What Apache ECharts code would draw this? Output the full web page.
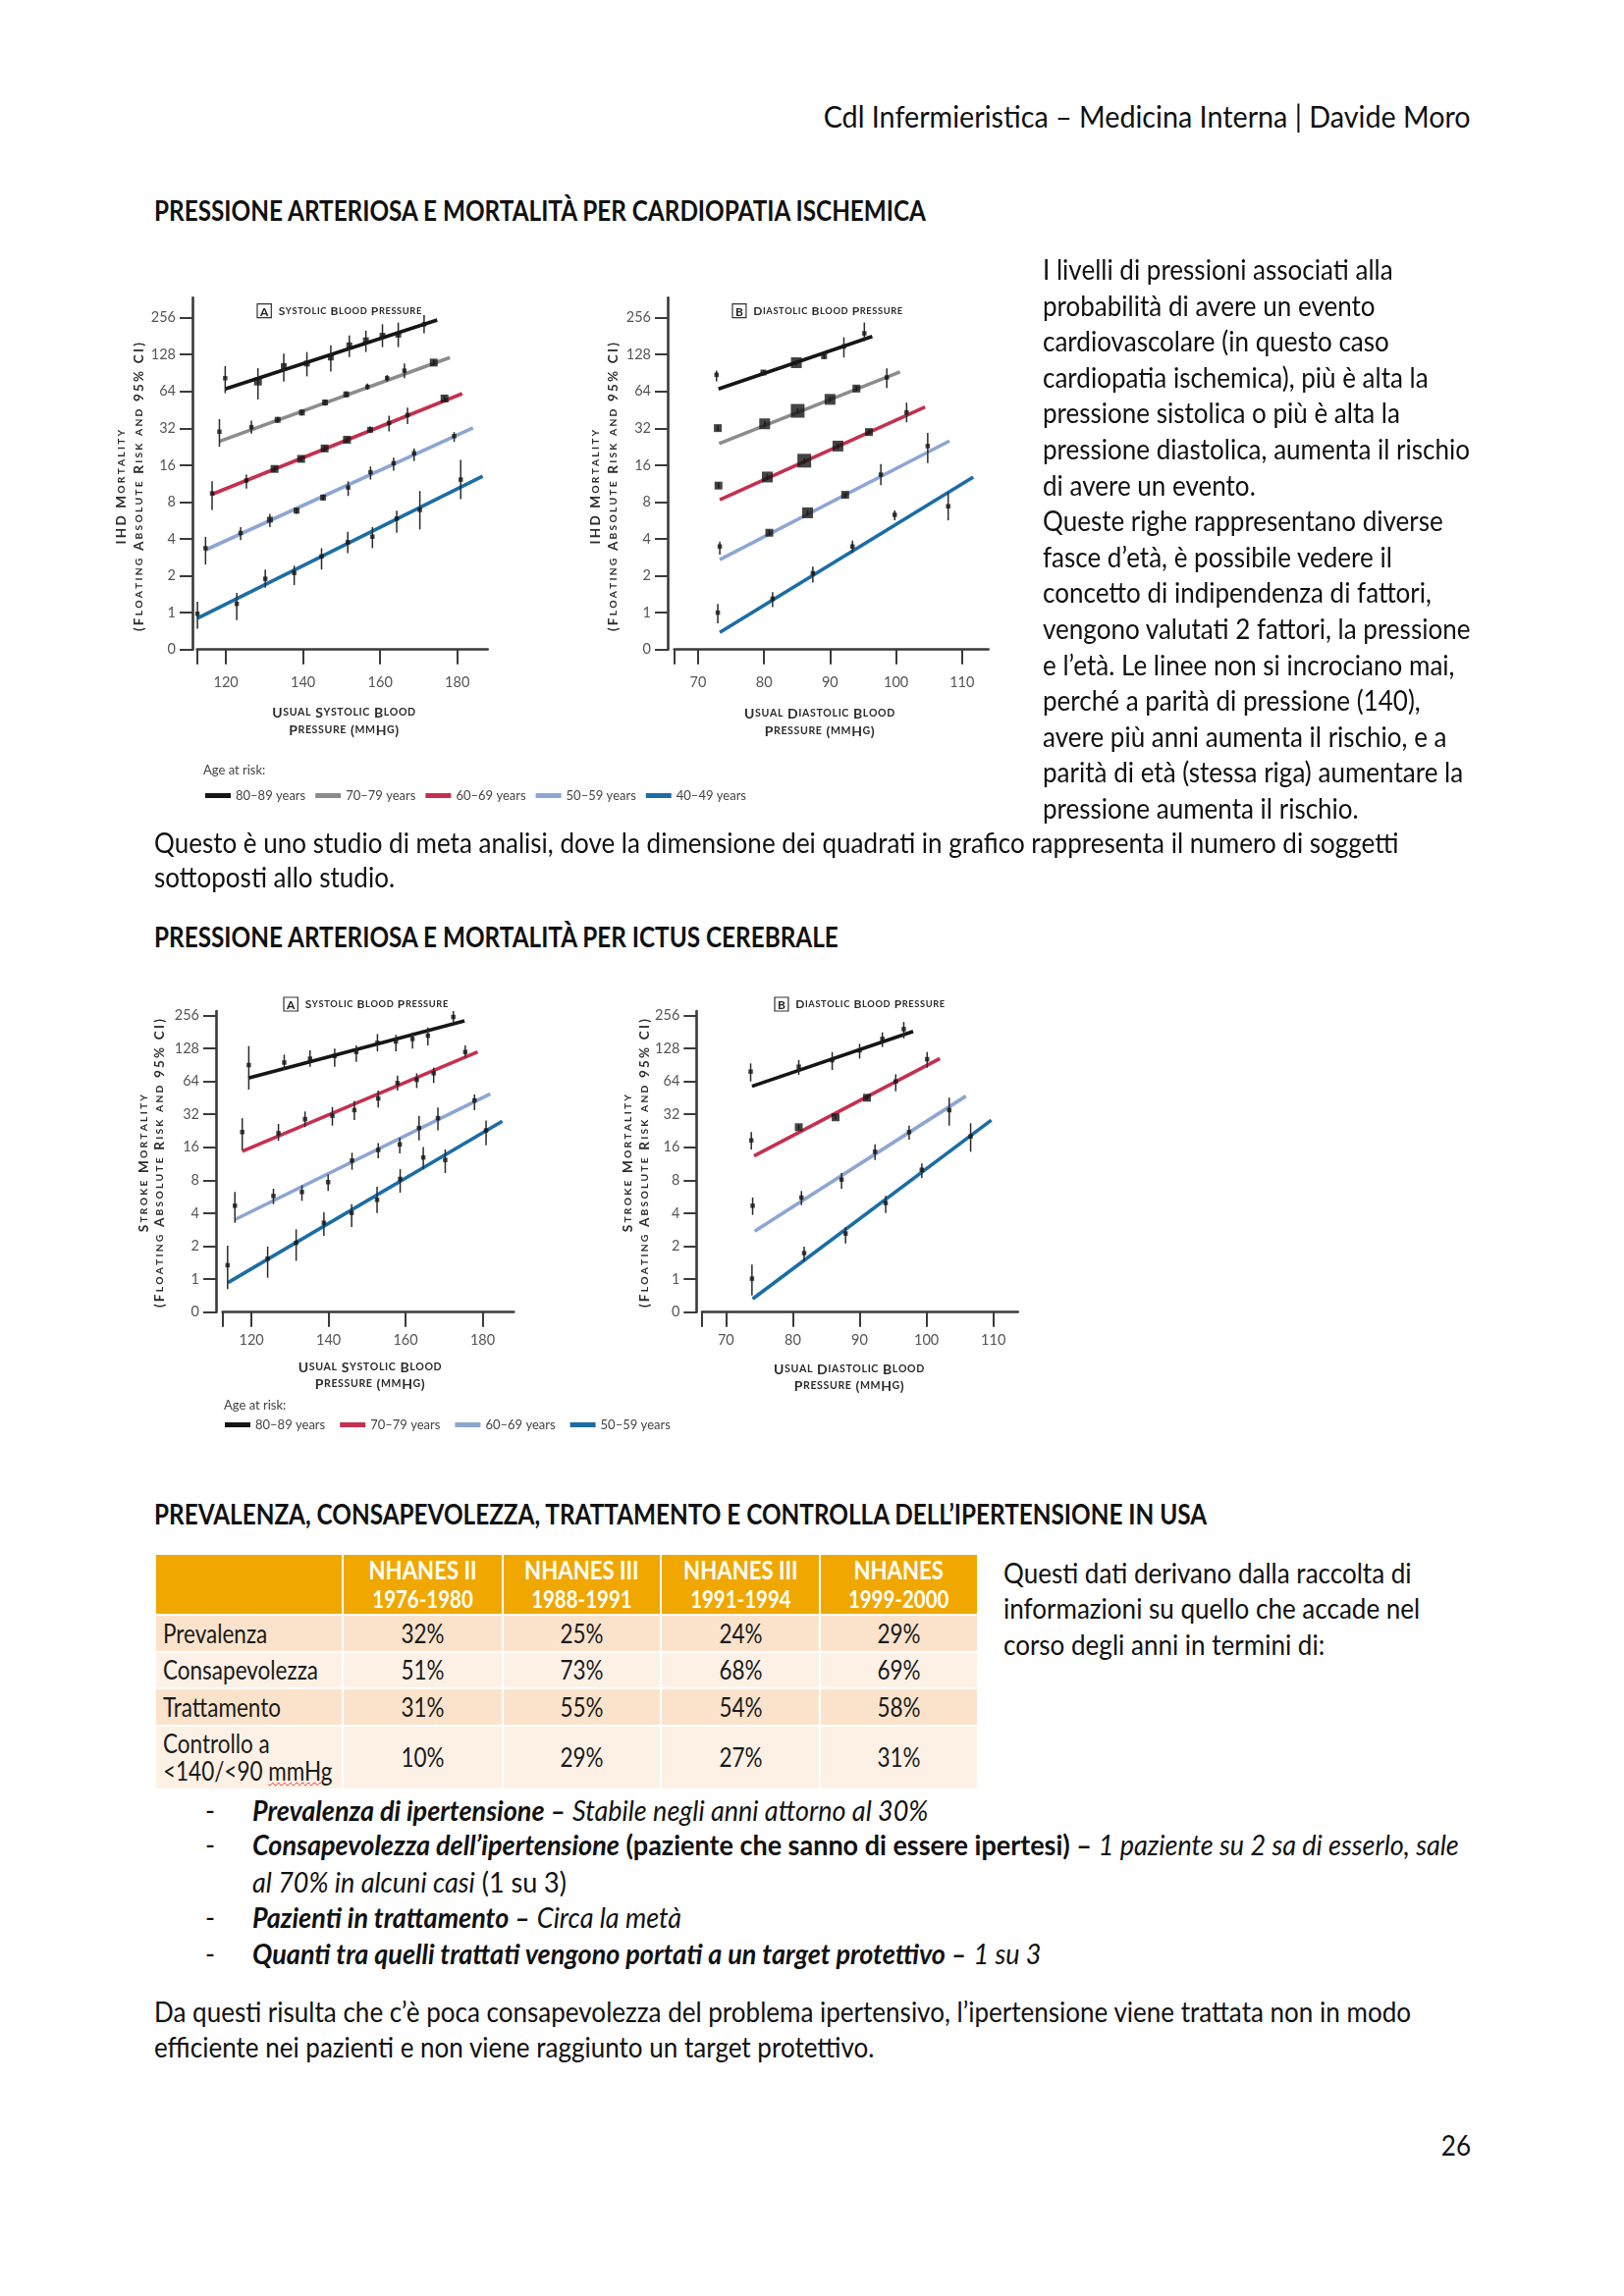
<!DOCTYPE html>
<html><head><meta charset="utf-8">
<script src="https://cdn.jsdelivr.net/npm/echarts@6/dist/echarts.min.js"></script>
<style>
html,body{margin:0;padding:0;background:#fff;}
#page{position:relative;width:1654px;height:2339px;overflow:hidden;background:#fff;font-family:Lato,'Open Sans',sans-serif;color:#111;}
.ln{position:absolute;white-space:nowrap;font-size:28.5px;line-height:36px;height:36px;transform-origin:0 50%;}
.ttl{font-weight:bold;}
.hd{font-size:30px;transform-origin:100% 50%;}
.pn{transform-origin:100% 50%;}
#fig1{position:absolute;left:0;top:280px;width:1100px;height:570px;}
#fig2{position:absolute;left:0;top:1000px;width:1100px;height:480px;}
table#tb{position:absolute;left:157px;top:1582px;border-collapse:collapse;table-layout:fixed;width:838px;}
#tb td,#tb th{border:2px solid #fff;padding:0;text-align:center;overflow:hidden;white-space:nowrap;}
#tb th{background:#F0A800;color:#fff;font-weight:bold;font-size:26px;line-height:29px;}
#tb th .yr{font-weight:bold;font-size:24px;}
#tb td{font-size:26px;color:#1a1a1a;line-height:28px;}
#tb tr.a td{background:#FBE3CB;}
#tb tr.b td{background:#FDF1E6;}
#tb td.lab{text-align:left;padding-left:7px;}
.sx{display:inline-block;transform-origin:50% 50%;}
.lab .sx{transform-origin:0 50%;}
.sq{text-decoration:underline wavy #e03030;text-decoration-thickness:1px;}
</style></head>
<body><div id="page">
<div class="ln hd" data-y="118" data-r="1498">Cdl Infermieristica – Medicina Interna | Davide Moro</div>
<div class="ln ttl" data-y="213.6" style="left:157px">PRESSIONE ARTERIOSA E MORTALITÀ PER CARDIOPATIA ISCHEMICA</div>
<div id="fig1"></div>
<div id="rightcol"></div>
<div class="ln rg" data-y="857.5" style="left:157px">Questo è uno studio di meta analisi, dove la dimensione dei quadrati in grafico rappresenta il numero di soggetti</div>
<div class="ln rg" data-y="893.4" style="left:157px">sottoposti allo studio.</div>
<div class="ln ttl" data-y="954" style="left:157px">PRESSIONE ARTERIOSA E MORTALITÀ PER ICTUS CEREBRALE</div>
<div id="fig2"></div>
<div class="ln ttl" data-y="1542" style="left:157px">PREVALENZA, CONSAPEVOLEZZA, TRATTAMENTO E CONTROLLA DELL’IPERTENSIONE IN USA</div>
<table id="tb">
<colgroup><col style="width:191px"><col style="width:163px"><col style="width:161px"><col style="width:162px"><col style="width:161px"></colgroup>
<tbody id="tbody"></tbody>
</table>
<div class="ln rg" data-y="1601.6" style="left:1022px">Questi dati derivano dalla raccolta di</div>
<div class="ln rg" data-y="1637.5" style="left:1022px">informazioni su quello che accade nel</div>
<div class="ln rg" data-y="1674.7" style="left:1022px">corso degli anni in termini di:</div>
<div class="ln bu" data-y="1843.6" style="left:209px">-</div>
<div class="ln bu" data-y="1843.6" style="left:257px"><b><i>Prevalenza di ipertensione –</i></b> <i>Stabile negli anni attorno al 30%</i></div>
<div class="ln bu" data-y="1879.4" style="left:209px">-</div>
<div class="ln bu" data-y="1879.4" style="left:257px"><b><i>Consapevolezza dell’ipertensione</i> (paziente che sanno di essere ipertesi) –</b> <i>1 paziente su 2 sa di esserlo, sale</i></div>
<div class="ln bu" data-y="1916.8" style="left:257px"><i>al 70% in alcuni casi</i> (1 su 3)</div>
<div class="ln bu" data-y="1952.6" style="left:209px">-</div>
<div class="ln bu" data-y="1952.6" style="left:257px"><b><i>Pazienti in trattamento –</i></b> <i>Circa la metà</i></div>
<div class="ln bu" data-y="1990" style="left:209px">-</div>
<div class="ln bu" data-y="1990" style="left:257px"><b><i>Quanti tra quelli trattati vengono portati a un target protettivo –</i></b> <i>1 su 3</i></div>
<div class="ln rg" data-y="2048.8" style="left:157px">Da questi risulta che c’è poca consapevolezza del problema ipertensivo, l’ipertensione viene trattata non in modo</div>
<div class="ln rg" data-y="2084.6" style="left:157px">efficiente nei pazienti e non viene raggiunto un target protettivo.</div>
<div class="ln pn" data-y="2184.7" data-r="1498">26</div>
</div>
<script>
// ================= DATA =================
const rightColumnText = [
 'I livelli di pressioni associati alla','probabilità di avere un evento','cardiovascolare (in questo caso',
 'cardiopatia ischemica), più è alta la','pressione sistolica o più è alta la','pressione diastolica, aumenta il rischio',
 'di avere un evento.','Queste righe rappresentano diverse','fasce d’età, è possibile vedere il',
 'concetto di indipendenza di fattori,','vengono valutati 2 fattori, la pressione','e l’età. Le linee non si incrociano mai,',
 'perché a parità di pressione (140),','avere più anni aumenta il rischio, e a','parità di età (stessa riga) aumentare la',
 'pressione aumenta il rischio.'];

const tableHeaders = [['NHANES II','1976-1980'],['NHANES III','1988-1991'],['NHANES III','1991-1994'],['NHANES','1999-2000']];
const tableRows = ['Prevalenza','Consapevolezza','Trattamento','Controllo a <140/<90 mmHg'];
const tablePrevalenza = ['32%','25%','24%','29%'];
const tableConsapevolezza = ['51%','73%','68%','69%'];
const tableTrattamento = ['31%','55%','54%','58%'];
const tableControllo = ['10%','29%','27%','31%'];

const ihdAges = ['80–89 years','70–79 years','60–69 years','50–59 years','40–49 years'];
const strokeAges = ['80–89 years','70–79 years','60–69 years','50–59 years'];
const yTickExp = [-1,0,1,2,3,4,5,6,7,8];   // log2 of risk; -1 is labelled "0"
const sysTicks = [120,140,160,180];
const diaTicks = [70,80,90,100,110];

// Fitted lines: [mmHg, risk] at both ends
const ihdSysFit80 = [[119.8,67],[174.8,245]];
const ihdSysFit70 = [[118.3,25],[178.1,121]];
const ihdSysFit60 = [[116.4,9.26],[181.3,61.4]];
const ihdSysFit50 = [[114.7,3.25],[184.1,32.2]];
const ihdSysFit40 = [[112.6,0.9],[186.6,13]];
// Points: [mmHg, risk, CI low, CI high, relative study size 1-5]
const ihdSysPts80 = [[119.8,82,62,103,1],[128.3,77,55,99,3],[135.0,103,77,130,2],[141.0,108,85,134,2],[147.2,121,93,152,2],[152.0,152,122,183,2],[156.3,167,134,200,2],[160.6,182,147,226,2],[164.7,186,147,233,2],[171.4,226,191,269,1]];
const ihdSysPts70 = [[118.3,30,22.6,38,1],[126.6,32.7,28.9,36.9,1],[133.4,37.5,35.5,39.6,2],[139.7,43,40.7,45.4,2],[145.7,52,49,55,2],[151.2,60.5,57,64,2],[156.7,69.7,66,74,1],[161.8,82,77,87,1],[166.3,94.5,82,108,1],[173.9,110,104,116,3]];
const ihdSysPts60 = [[116.4,9.4,6.9,11.8,1],[125.3,12,10.3,13.4,1],[132.6,14.9,14.1,15.7,3],[139.5,18,17,19,3],[145.6,21.9,20.7,23.1,3],[151.4,25.8,24.4,27.2,3],[157.4,31.1,29.3,33,2],[162.3,35.3,30.2,40.5,1],[167.1,41,34.7,47.2,1],[176.7,56,53,59,3]];
const ihdSysPts50 = [[114.7,3.36,2.47,4.16,1],[123.8,4.47,3.91,5.0,1],[131.4,5.74,5.0,6.4,2],[138.3,6.8,6.4,7.2,2],[145.2,8.7,8.2,9.2,2],[151.7,10.5,8.97,11.8,1],[157.5,14,12.2,15.6,1],[163.5,16.6,14.4,18.4,1],[168.8,20,17.3,21.9,1],[179.2,27.6,24.8,29.8,1]];
const ihdSysPts40 = [[112.6,0.98,0.74,1.23,1],[122.8,1.18,0.87,1.45,1],[130.2,1.89,1.6,2.25,1],[137.7,2.11,1.68,2.42,1],[144.8,2.88,2.25,3.36,1],[151.6,3.76,3.06,4.57,1],[158.0,4.17,3.36,5.0,1],[164.3,5.86,4.48,6.8,1],[170.3,6.9,4.77,9.84,1],[180.9,12.2,8.44,17.7,1]];

const ihdDiaFit80 = [[73.1,67],[96.4,180]];
const ihdDiaFit70 = [[73.2,24],[100.6,92.3]];
const ihdDiaFit60 = [[73.3,8.35],[104.4,47.8]];
const ihdDiaFit50 = [[73.3,2.71],[108.1,25.2]];
const ihdDiaFit40 = [[73.3,0.69],[111.7,12.8]];
const ihdDiaPts80 = [[72.8,87.4,77.2,94.6,1],[79.9,91.2,87,95.5,2],[84.9,109.7,104,115,4],[89.1,124,118,130,2],[92.1,149,121,177,1],[95.2,190.6,164.5,233.5,1]];
const ihdDiaPts70 = [[73.0,32.1,30.5,33.7,3],[80.1,34.8,33,36.6,4],[85.1,44.4,42.2,46.6,5],[90.0,55.1,52.3,57.9,4],[94.0,67.5,64,71,3],[98.6,83.2,68.3,98.8,1]];
const ihdDiaPts60 = [[73.1,10.9,10.3,11.5,3],[80.5,12.8,12.1,13.5,4],[86.1,17.4,16.5,18.3,5],[91.2,22.9,21.7,24.1,4],[95.9,29.8,28.3,31.3,3],[101.6,43.1,35.8,51.8,1]];
const ihdDiaPts50 = [[73.3,3.47,2.98,3.8,1],[80.8,4.49,4.26,4.72,3],[86.6,6.53,6.2,6.86,4],[92.3,9.16,8.7,9.6,3],[97.7,13.4,11.0,16.3,1],[104.8,22.9,16.6,29.4,1]];
const ihdDiaPts40 = [[73.0,1.0,0.82,1.18,1],[81.3,1.30,1.11,1.47,1],[87.4,2.1,1.76,2.37,1],[93.4,3.47,3.07,3.87,1],[99.8,6.29,5.67,6.82,1],[107.9,7.39,5.67,9.56,1]];

const strokeSysFit80 = [[119.2,68.4],[175.3,227.8]];
const strokeSysFit70 = [[117.6,14.7],[178.7,118.5]];
const strokeSysFit60 = [[115.8,3.51],[182.0,49.2]];
const strokeSysFit50 = [[113.9,0.93],[185.1,27.6]];
const strokeSysPts80 = [[119.3,90,53.7,134,1],[128.5,95,81.2,112,1],[135.2,103,87,122.6,1],[141.6,109,87,127,1],[147.2,118.5,96.4,136,1],[152.7,143.7,120,173,1],[157.5,147.7,120,169.5,1],[161.8,156,127,179,1],[165.8,167,136,198.5,1],[172.4,247.5,223,280,1]];
const strokeSysPts70 = [[117.6,22,15.1,29.5,1],[127.0,21.5,18.3,26.1,1],[133.9,28.9,24.4,33.9,1],[141.0,31,25.2,37.3,1],[146.7,34.9,28.3,42.3,1],[152.9,44.6,36.8,52.6,1],[157.9,61.7,52.6,72.3,1],[162.9,66,55.6,75.8,1],[167.3,75.8,61.7,85.2,1],[175.5,118.5,107,136,1]];
const strokeSysPts60 = [[115.7,4.68,3.27,6.25,1],[125.7,5.75,4.84,6.69,1],[133.1,6.25,5.19,7.17,1],[139.9,7.68,6.38,9.0,1],[146.1,12.1,9.97,14.25,1],[152.9,15.1,12.7,17.5,1],[158.5,17,14.06,19.6,1],[163.5,24,18.5,31,1],[168.4,29.5,22.8,36.8,1],[177.9,42.8,34.9,48.5,1]];
const strokeSysPts50 = [[113.8,1.34,0.81,2.02,1],[124.2,1.54,1.03,1.98,1],[131.6,2.15,1.47,2.85,1],[138.8,3.27,2.48,4.08,1],[146.0,4.02,2.99,4.84,1],[152.6,5.3,4.02,6.97,1],[158.6,8.23,6.16,10.1,1],[164.6,12.9,10.1,16.1,1],[170.3,12.25,9.3,15.3,1],[180.9,22.8,16.7,28,1]];

const strokeDiaFit80 = [[73.9,57.6],[98.0,182.8]];
const strokeDiaFit70 = [[74.2,13.3],[102.0,103.3]];
const strokeDiaFit60 = [[74.3,2.74],[105.9,46.9]];
const strokeDiaFit50 = [[74.0,0.66],[109.7,28.3]];
const strokeDiaPts80 = [[73.7,78.5,63.8,93.2,1],[80.9,87,73.2,99.8,1],[85.9,99.8,81.2,118.5,1],[90.0,122.6,103.3,140.8,1],[93.4,156,131.4,179,1],[96.6,191.7,158,223,1]];
const strokeDiaPts70 = [[73.8,18.5,15.3,22,1],[80.9,24.4,23.2,25.6,3],[86.4,30,28.5,31.5,3],[91.1,45.3,43,47.6,3],[95.4,63.8,51.9,74.2,1],[100.1,101.9,85.2,118.5,1]];
const strokeDiaPts60 = [[74.0,4.68,3.86,5.56,1],[81.3,5.56,4.74,6.38,1],[87.3,8.11,6.69,9.3,1],[92.3,14.55,12.25,17.04,1],[97.4,22,18.8,25.2,1],[103.4,34.9,25.2,45.3,1]];
const strokeDiaPts50 = [[73.9,1.01,0.71,1.36,1],[81.7,1.73,1.45,1.98,1],[87.9,2.61,2.12,2.99,1],[93.9,4.95,4.02,5.75,1],[99.3,9.97,8.39,11.4,1],[106.6,20.1,14.55,26.5,1]];

// ================= DOCUMENT TEXT =================
const page = document.getElementById('page');
const rc = document.getElementById('rightcol');
rightColumnText.forEach((t, i) => {
  const d = document.createElement('div');
  d.className = 'ln rg'; d.style.left = '1062px';
  d.dataset.y = String(274 + 36.6 * i);
  d.textContent = t; rc.appendChild(d);
});
const tb = document.getElementById('tbody');
(function(){
  let h = '<tr style="height:62px"><th></th>';
  tableHeaders.forEach(x => { h += '<th><span class="sx hx">' + x[0] + '<br><span class="yr">' + x[1] + '</span></span></th>'; });
  h += '</tr>';
  const vals = [tablePrevalenza, tableConsapevolezza, tableTrattamento, tableControllo];
  tableRows.forEach((r, i) => {
    const cls = i % 2 === 0 ? 'a' : 'b';
    const hgt = i === 3 ? 65 : 37.5;
    let lab = r;
    if (i === 3) lab = 'Controllo a<br>&lt;140/&lt;90 <span class="sq">mmHg</span>';
    h += '<tr class="' + cls + '" style="height:' + hgt + 'px"><td class="lab"><span class="sx">' + lab + '</span></td>';
    vals[i].forEach(v => { h += '<td><span class="sx">' + v + '</span></td>'; });
    h += '</tr>';
  });
  tb.innerHTML = h;
})();

document.querySelectorAll('.ln').forEach(el => {
  el.style.top = (parseFloat(el.dataset.y) - 18) + 'px';
  if (el.dataset.r) { el.style.right = (1654 - parseFloat(el.dataset.r)) + 'px'; }
});

function measure(text, font) {
  const s = document.createElement('span');
  s.style.cssText = 'position:absolute;visibility:hidden;white-space:nowrap;font:' + font;
  s.textContent = text; page.appendChild(s);
  const w = s.getBoundingClientRect().width; s.remove(); return w;
}
function clamp(k){ return Math.max(0.75, Math.min(1.2, k)); }
function fitText() {
  const kReg = clamp(435 / measure('pressione diastolica, aumenta il rischio', '28.5px Lato'));
  const kBul = clamp(451 / measure('pressione diastolica, aumenta il rischio', '28.5px Lato'));
  const kBold = clamp(786 / measure('PRESSIONE ARTERIOSA E MORTALITÀ PER CARDIOPATIA ISCHEMICA', 'bold 28.5px Lato'));
  const kHead = clamp(659 / measure('Cdl Infermieristica – Medicina Interna | Davide Moro', '30px Lato'));
  const kTab = clamp(158 / measure('Consapevolezza', '26px Lato'));
  const kTh = clamp(110 / measure('NHANES II', 'bold 26px Lato'));
  document.querySelectorAll('.ln').forEach(el => {
    let k = kReg;
    if (el.classList.contains('bu')) k = kBul;
    if (el.classList.contains('ttl')) k = kBold;
    if (el.classList.contains('hd')) k = kHead;
    el.style.transform = 'scaleX(' + k + ')';
  });
  document.querySelectorAll('#tb .sx').forEach(el => {
    el.style.transform = 'scaleX(' + (el.classList.contains('hx') ? kTh : kTab) + ')';
  });
}
fitText();
if (document.fonts && document.fonts.ready) document.fonts.ready.then(fitText);

// ================= CHARTS =================
const FONT = 'Lato, "Open Sans", sans-serif';
const AX = '#3a3a3a';
const sizeMap = [0, 4.5, 6, 8, 11, 14];

// small caps, one rich token per character so letter spacing can be applied
function sc(s) {
  let out = '';
  for (const c of s) {
    const low = /[a-z]/.test(c);
    out += '{' + (low ? 's' : 'B') + '|' + (low ? c.toUpperCase() : c) + '}';
  }
  return out;
}
function scRich(big, small, ls) {
  return {
    B: {fontSize: big, fontWeight: 'bold', fontFamily: FONT, fill: '#2c2c2c', padding: [0, ls, 0, 0]},
    s: {fontSize: small, fontWeight: 'bold', fontFamily: FONT, fill: '#2c2c2c', padding: [0, ls, 0, 0]},
    box: {fontSize: big, fontWeight: 'bold', fontFamily: FONT, fill: '#222', borderColor: '#333', borderWidth: 1.2, padding: [2, 3, 0, 3]},
    g: {fontSize: big, padding: [0, 4, 0, 0]}
  };
}
function gtext(x, y, text, rich, align, rotation) {
  const el = {type: 'text', x: x, y: y, silent: true, z: 10,
    style: {text: text, rich: rich, align: align, verticalAlign: 'middle', fontFamily: FONT, fill: '#333'}};
  if (rotation) el.rotation = rotation;
  return el;
}

function buildFigure(domId, fig) {
  const T = fig.top;
  const grid = [], xAxis = [], yAxis = [], series = [], graphic = [];
  fig.panels.forEach((p, gi) => {
    grid.push({left: p.left, top: p.gTop - T, width: p.right - p.left, height: p.bottom - p.gTop});
    xAxis.push({type: 'value', gridIndex: gi, min: p.xmin, max: p.xmax,
      axisLine: {show: true, onZero: false, lineStyle: {color: AX, width: 2.6}},
      axisTick: {show: true, customValues: [p.xmin].concat(p.xTicks), length: 15, lineStyle: {color: AX, width: 2}},
      axisLabel: {show: true, customValues: p.xTicks, margin: p.xMargin, fontSize: 14.5, color: '#555', fontFamily: FONT},
      splitLine: {show: false}});
    yAxis.push({type: 'value', gridIndex: gi, min: -1, max: p.ymax, offset: p.yOffset,
      axisLine: {show: true, onZero: false, lineStyle: {color: AX, width: 2.6}},
      axisTick: {show: true, customValues: yTickExp, length: 13, lineStyle: {color: AX, width: 2}},
      axisLabel: {show: true, customValues: yTickExp, margin: 17, fontSize: 14.5, color: '#555', fontFamily: FONT,
        formatter: v => (v < -0.5 ? '0' : String(Math.round(Math.pow(2, v))))},
      splitLine: {show: false}});
    p.fits.forEach((fit, g) => {
      const name = fig.ages[g], color = fig.colors[g];
      series.push({type: 'line', name: name, xAxisIndex: gi, yAxisIndex: gi,
        data: fit.map(d => [d[0], Math.log2(d[1])]), symbol: 'none', showSymbol: false,
        lineStyle: {color: color, width: 3.6}, itemStyle: {color: color}, z: 2, silent: true});
      series.push({type: 'custom', name: name, xAxisIndex: gi, yAxisIndex: gi,
        data: p.pts[g].map(d => [d[0], Math.log2(d[2]), Math.log2(d[3])]),
        renderItem: (params, api) => {
          const a = api.coord([api.value(0), api.value(1)]);
          const b = api.coord([api.value(0), api.value(2)]);
          return {type: 'line', shape: {x1: a[0], y1: a[1], x2: b[0], y2: b[1]}, style: {stroke: '#2a2a2a', lineWidth: 1.5}};
        }, z: 3, silent: true});
      series.push({type: 'scatter', name: name, xAxisIndex: gi, yAxisIndex: gi,
        data: p.pts[g].map(d => [d[0], Math.log2(d[1]), d[4]]),
        symbol: 'rect', symbolSize: v => sizeMap[v[2]], itemStyle: {color: '#151515'}, z: 4, silent: true});
    });
    graphic.push(gtext(p.titleX, p.titleY - T, '{box|' + p.letter + '}{g| }' + sc(p.title), scRich(12, 9.3, 0.6), 'left'));
    graphic.push(gtext(p.yName1X, p.yNameY - T, sc(p.yName1), scRich(13.5, 10.3, 2.2), 'center', Math.PI / 2));
    graphic.push(gtext(p.yName2X, p.yNameY - T, sc(p.yName2), scRich(13.5, 10.3, 2.2), 'center', Math.PI / 2));
    graphic.push(gtext(p.xNameX, p.xName1Y - T, sc(p.xName1), scRich(14, 10.6, 0.6), 'center'));
    graphic.push(gtext(p.xNameX, p.xName2Y - T, sc(p.xName2), scRich(14, 10.6, 0.6), 'center'));
  });
  graphic.push({type: 'text', x: fig.ageX, y: fig.ageY - T, silent: true,
    style: {text: 'Age at risk:', fontSize: 13, fontFamily: FONT, fill: '#444', verticalAlign: 'middle', align: 'left'}});
  const chart = echarts.init(document.getElementById(domId));
  chart.setOption({
    animation: false,
    grid: grid, xAxis: xAxis, yAxis: yAxis, series: series, graphic: graphic,
    legend: {left: fig.legendX, top: fig.legendY - T - 8, orient: 'horizontal', icon: 'rect',
      itemWidth: 26, itemHeight: 5, itemGap: fig.itemGap, padding: 0, selectedMode: false,
      textStyle: {fontSize: 13, color: '#444', fontFamily: FONT},
      data: fig.ages.map((n, i) => ({name: n, itemStyle: {color: fig.colors[i], borderWidth: 0}}))}
  });
}

const ihdColors = ['#161616', '#8c8c8c', '#c4304f', '#8da6d2', '#1b6da6'];
const strokeColors = ['#161616', '#c4304f', '#8da6d2', '#1b6da6'];

buildFigure('fig1', {
  top: 280, ages: ihdAges, colors: ihdColors, legendX: 209, legendY: 812, itemGap: 10, ageX: 207, ageY: 785,
  panels: [
    {left: 200.7, right: 496.7, gTop: 303.3, bottom: 661.7, xmin: 112.5, xmax: 187.9, ymax: 8.54, yOffset: 4.7,
     xTicks: sysTicks, xMargin: 26, fits: [ihdSysFit80, ihdSysFit70, ihdSysFit60, ihdSysFit50, ihdSysFit40],
     pts: [ihdSysPts80, ihdSysPts70, ihdSysPts60, ihdSysPts50, ihdSysPts40],
     letter: 'A', title: 'Systolic Blood Pressure', titleX: 262, titleY: 316.7,
     yName1: 'IHD Mortality', yName2: '(Floating Absolute Risk and 95% CI)', yName1X: 124, yName2X: 142, yNameY: 495,
     xName1: 'Usual Systolic Blood', xName2: 'Pressure (mmHg)', xNameX: 350.5, xName1Y: 726, xName2Y: 744},
    {left: 686.7, right: 1006.7, gTop: 303.3, bottom: 661.7, xmin: 66.4, xmax: 114, ymax: 8.54, yOffset: 6.7,
     xTicks: diaTicks, xMargin: 26, fits: [ihdDiaFit80, ihdDiaFit70, ihdDiaFit60, ihdDiaFit50, ihdDiaFit40],
     pts: [ihdDiaPts80, ihdDiaPts70, ihdDiaPts60, ihdDiaPts50, ihdDiaPts40],
     letter: 'B', title: 'Diastolic Blood Pressure', titleX: 746, titleY: 316.7,
     yName1: 'IHD Mortality', yName2: '(Floating Absolute Risk and 95% CI)', yName1X: 607, yName2X: 625, yNameY: 495,
     xName1: 'Usual Diastolic Blood', xName2: 'Pressure (mmHg)', xNameX: 835, xName1Y: 727, xName2Y: 745}
  ]
});

buildFigure('fig2', {
  top: 1000, ages: strokeAges, colors: strokeColors, legendX: 229, legendY: 1453, itemGap: 15, ageX: 228, ageY: 1432,
  panels: [
    {left: 226.7, right: 523.3, gTop: 1030, bottom: 1336.7, xmin: 112.5, xmax: 188.1, ymax: 8.13, yOffset: 6.7,
     xTicks: sysTicks, xMargin: 21, fits: [strokeSysFit80, strokeSysFit70, strokeSysFit60, strokeSysFit50],
     pts: [strokeSysPts80, strokeSysPts70, strokeSysPts60, strokeSysPts50],
     letter: 'A', title: 'Systolic Blood Pressure', titleX: 289, titleY: 1023,
     yName1: 'Stroke Mortality', yName2: '(Floating Absolute Risk and 95% CI)', yName1X: 147, yName2X: 163, yNameY: 1184,
     xName1: 'Usual Systolic Blood', xName2: 'Pressure (mmHg)', xNameX: 377, xName1Y: 1393, xName2Y: 1410},
    {left: 715, right: 1036.7, gTop: 1030, bottom: 1336.7, xmin: 66.43, xmax: 113.67, ymax: 8.13, yOffset: 5.7,
     xTicks: diaTicks, xMargin: 21, fits: [strokeDiaFit80, strokeDiaFit70, strokeDiaFit60, strokeDiaFit50],
     pts: [strokeDiaPts80, strokeDiaPts70, strokeDiaPts60, strokeDiaPts50],
     letter: 'B', title: 'Diastolic Blood Pressure', titleX: 789, titleY: 1023,
     yName1: 'Stroke Mortality', yName2: '(Floating Absolute Risk and 95% CI)', yName1X: 640, yName2X: 657, yNameY: 1184,
     xName1: 'Usual Diastolic Blood', xName2: 'Pressure (mmHg)', xNameX: 865, xName1Y: 1395, xName2Y: 1412}
  ]
});
</script>
</body></html>
